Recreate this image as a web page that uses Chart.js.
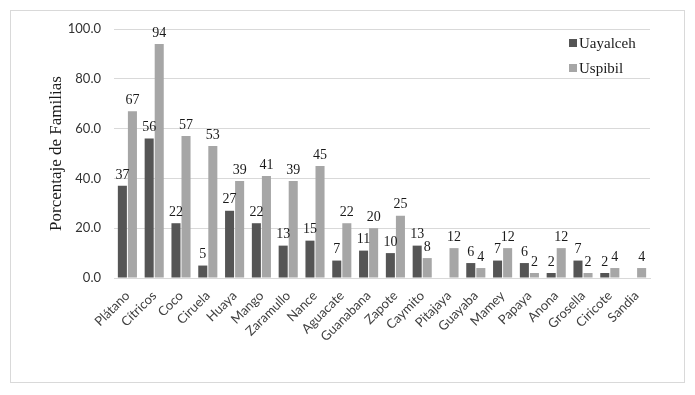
<!DOCTYPE html>
<html>
<head>
<meta charset="utf-8">
<script src="https://cdn.jsdelivr.net/npm/chart.js@4.4.0/dist/chart.umd.min.js"></script>
<style>
  html,body{margin:0;padding:0;background:#fff;}
  #wrap{width:695px;height:395px;position:relative;}
</style>
</head>
<body>
<div id="wrap"><canvas id="c" width="695" height="395"></canvas></div>
<script>
const categories = ["Plátano","Cítricos","Coco","Ciruela","Huaya","Mango","Zaramullo","Nance","Aguacate","Guanabana","Zapote","Caymito","Pitajaya","Guayaba","Mamey","Papaya","Anona","Grosella","Ciricote","Sandia"];
const uayalceh = [37,56,22,5,27,22,13,15,7,11,10,13,null,6,7,6,2,7,2,null];
const uspibil  = [67,94,57,53,39,41,39,45,22,20,25,8,12,4,12,2,12,2,4,4];
const yTicks = [0,20,40,60,80,100];

const SERIF = "'Liberation Serif','Times New Roman',serif";
const SANS = "Lato,'Open Sans',sans-serif";

// frame round the whole chart
const frame = {
  id:"frame",
  beforeDraw(c){
    const ctx=c.ctx; ctx.save();
    ctx.fillStyle="#fff"; ctx.fillRect(0,0,c.width,c.height);
    ctx.strokeStyle="#d9d9d9"; ctx.lineWidth=1;
    ctx.strokeRect(10.5,10.5,674,372);
    ctx.restore();
  }
};

// numbers above the bars
const barLabels = {
  id:"barLabels",
  afterDatasetsDraw(c){
    const ctx=c.ctx; ctx.save();
    ctx.font="14px "+SERIF; ctx.fillStyle="#1a1a1a";
    ctx.textAlign="center"; ctx.textBaseline="bottom";
    c.data.datasets.forEach((ds,di)=>{
      c.getDatasetMeta(di).data.forEach((bar,i)=>{
        const v=ds.data[i]; if(v==null) return;
        ctx.fillText(String(v), bar.x, bar.y-4);
      });
    });
    ctx.restore();
  }
};

// legend sitting inside the plot, top right
const cornerLegend = {
  id:"cornerLegend",
  afterDraw(c){
    const ctx=c.ctx; ctx.save();
    ctx.font="15px "+SERIF; ctx.textBaseline="middle"; ctx.textAlign="left";
    c.data.datasets.forEach((ds,i)=>{
      const y=43+i*25;
      ctx.fillStyle=ds.backgroundColor; ctx.fillRect(569,y-4,8,8);
      ctx.fillStyle="#1a1a1a"; ctx.fillText(ds.label,579,y+1);
    });
    ctx.restore();
  }
};

new Chart(document.getElementById("c"),{
  type:"bar",
  data:{
    labels:categories,
    datasets:[
      {label:"Uayalceh",data:uayalceh,backgroundColor:"#555555",categoryPercentage:0.75,barPercentage:0.9},
      {label:"Uspibil",data:uspibil,backgroundColor:"#a6a6a6",categoryPercentage:0.75,barPercentage:0.9}
    ]
  },
  options:{
    responsive:false,animation:false,
    layout:{padding:{left:45,right:45,top:29,bottom:0}},
    plugins:{legend:{display:false},tooltip:{enabled:false}},
    scales:{
      x:{
        grid:{display:false},
        border:{color:"#d9d9d9"},
        ticks:{color:"#404040",font:{family:SANS,size:13},minRotation:45,maxRotation:45,padding:2},
        afterFit(s){ s.height=117; }
      },
      y:{
        min:0,max:100,
        afterBuildTicks(s){ s.ticks=yTicks.map(v=>({value:v})); },
        grid:{color:"#d9d9d9",drawTicks:false},
        border:{display:false},
        ticks:{color:"#333333",font:{family:SANS,size:13},padding:13,callback:v=>v.toFixed(1)},
        title:{display:true,text:"Porcentaje de Familias",color:"#1a1a1a",font:{family:SERIF,size:17},padding:{top:1,bottom:0}},
        afterFit(s){ s.width=69; }
      }
    }
  },
  plugins:[frame,barLabels,cornerLegend]
});
</script>
</body>
</html>
